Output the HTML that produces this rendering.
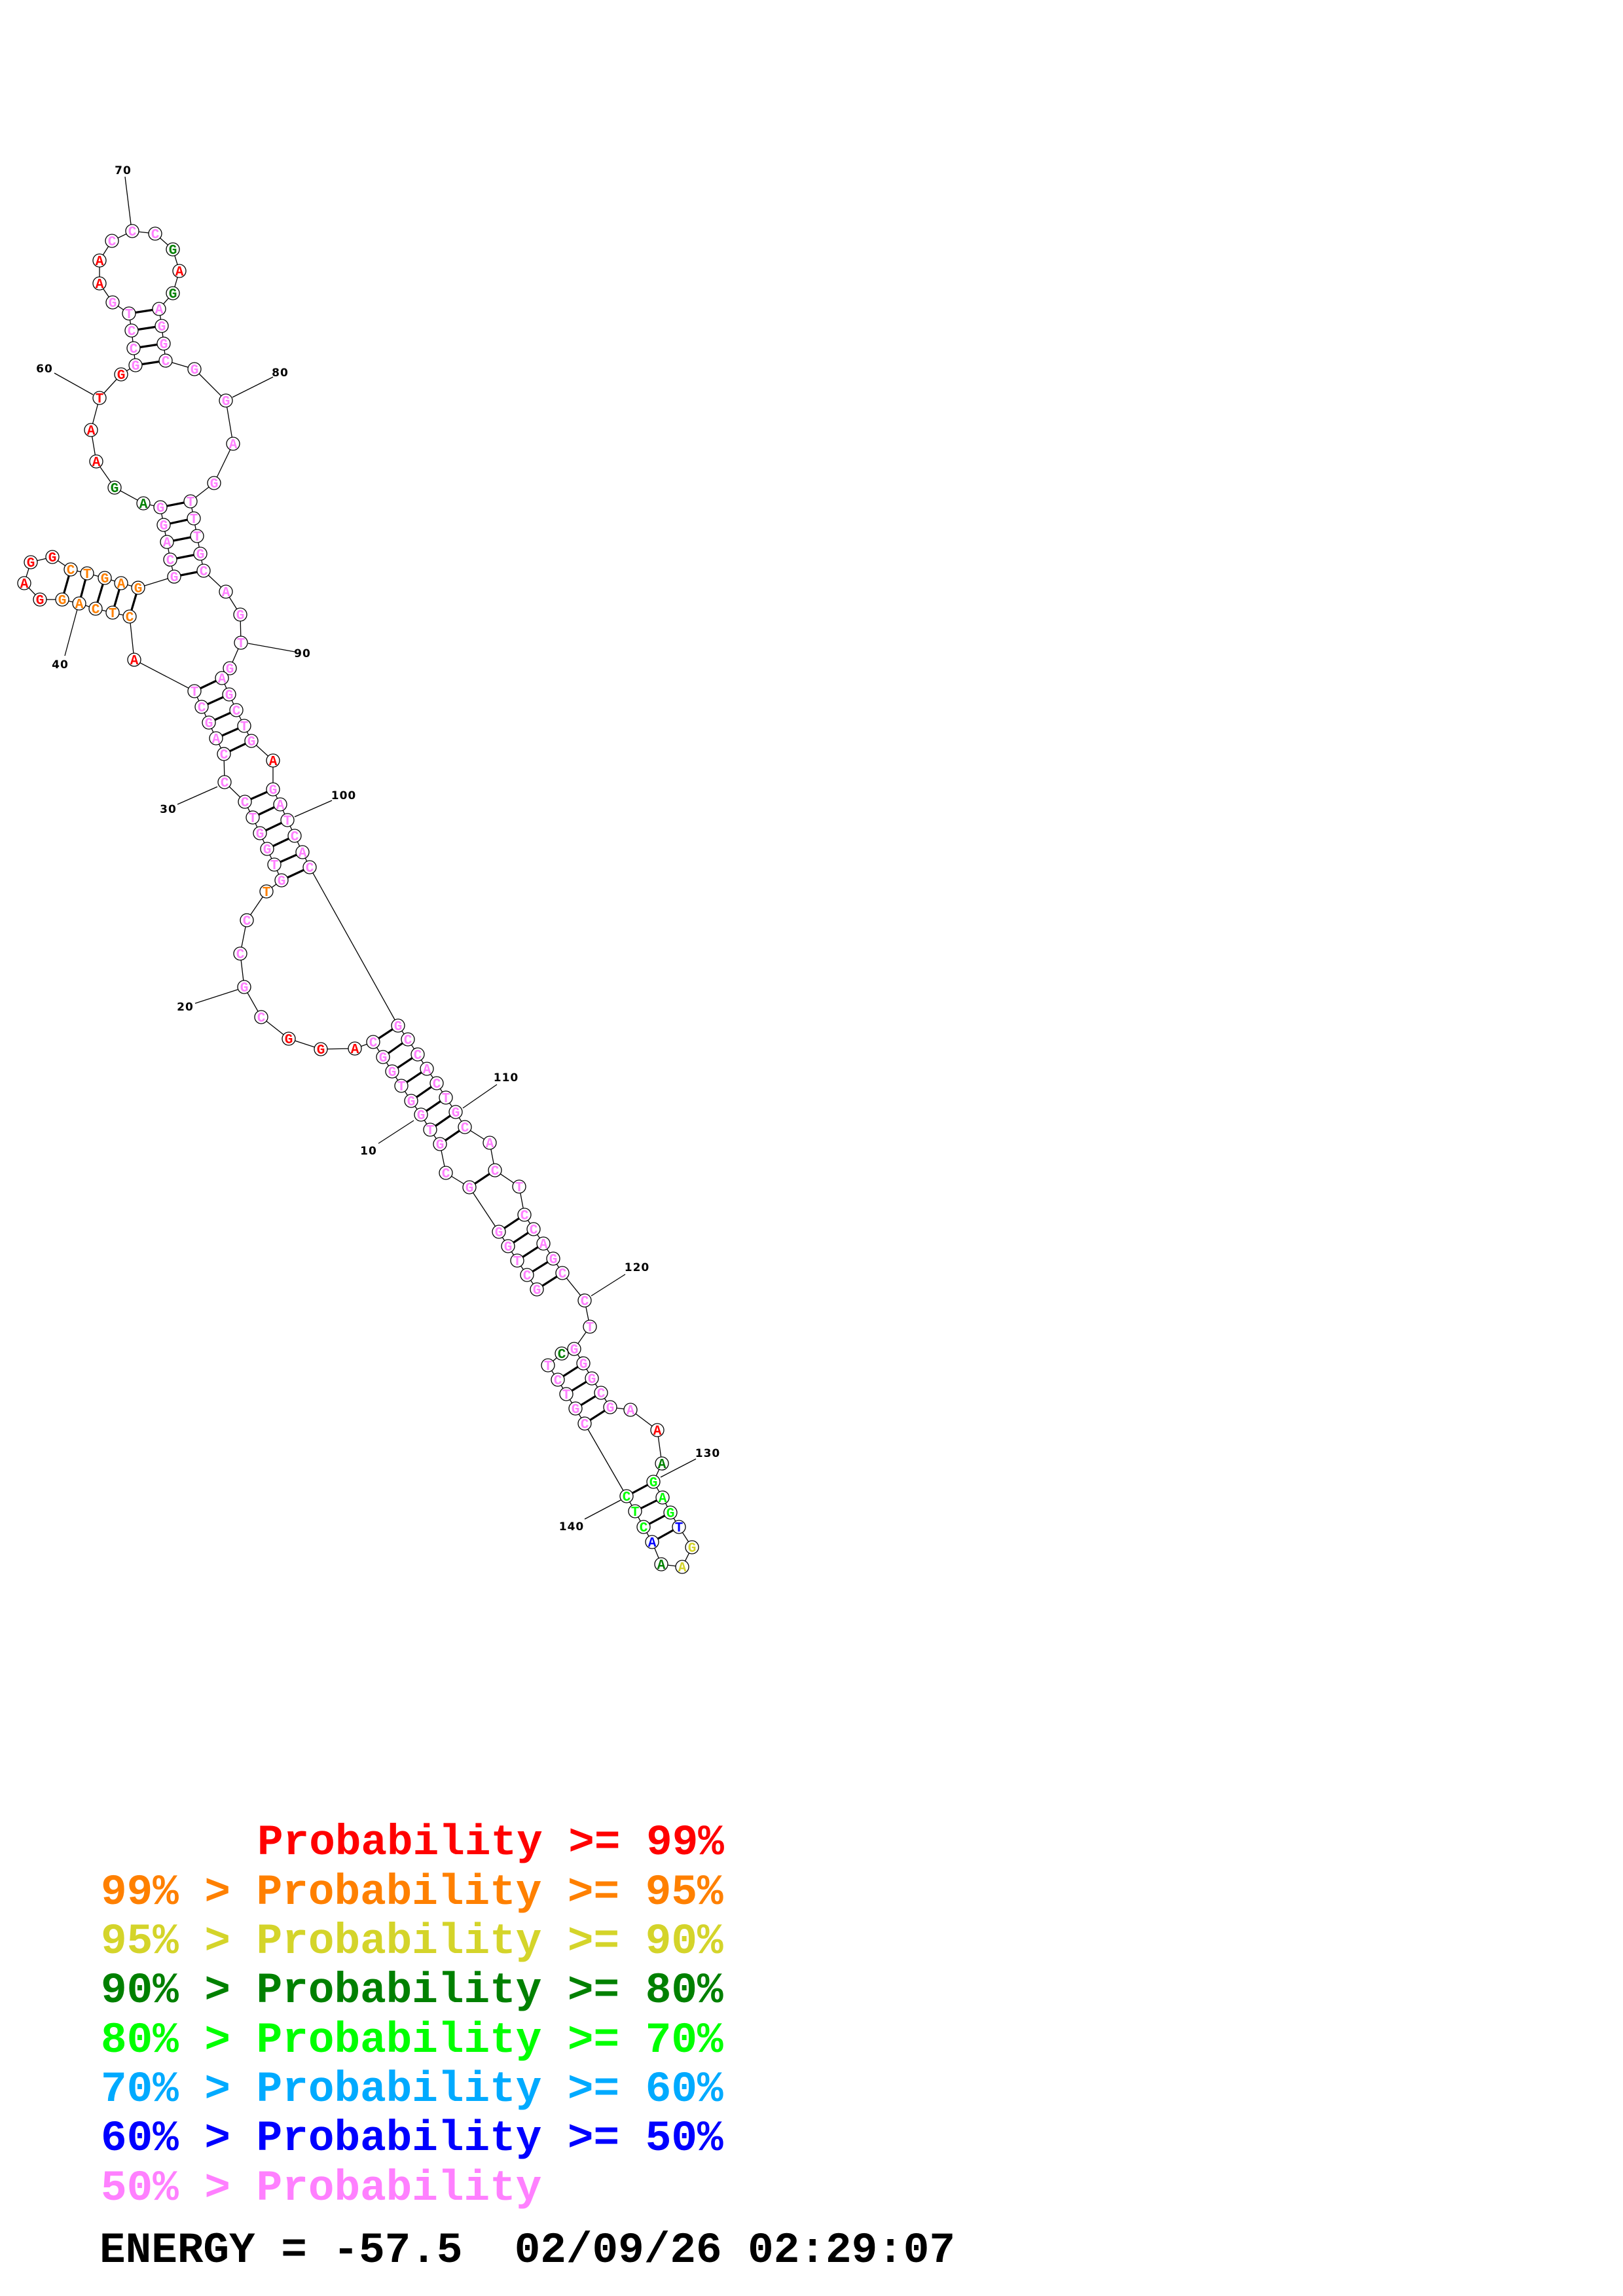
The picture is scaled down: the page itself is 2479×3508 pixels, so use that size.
<!DOCTYPE html>
<html><head><meta charset="utf-8"><style>
html,body{margin:0;padding:0;background:#fff}
svg{display:block}
.n circle{fill:#fff;stroke:#000;stroke-width:1.3}
.n text{font-family:"Liberation Mono",monospace;font-weight:bold;font-size:21px;text-anchor:middle}
.p text{fill:#ff80ff}.r text{fill:#ff0000}.o text{fill:#ff8000}.y text{fill:#d4d42a}.d text{fill:#008000}.g text{fill:#00ff00}.b text{fill:#0000ff}
.lbl{font-family:"DejaVu Sans","Liberation Sans",sans-serif;font-weight:bold;font-size:17px;text-anchor:middle;letter-spacing:1px}
.lg{font-family:"Liberation Mono",monospace;font-weight:bold;font-size:66px}
</style></head><body>
<svg width="2479" height="3508" viewBox="0 0 2479 3508" xmlns="http://www.w3.org/2000/svg">
<polyline fill="none" stroke="#000" stroke-width="1.3" points="820,1970 805,1948 790,1926 776,1904 762,1882 717,1814 681,1792 672,1748 657,1726 643,1703 628,1682 613,1659 599,1637 585,1615 570,1592 542,1602 490,1603 441,1587 399,1554 373,1508 367,1457 377,1406 407,1362 430,1345 419,1321 408,1297 397,1273 386,1249 374,1225 343,1195 342,1152 330,1128 319,1104 308,1080 297,1056 205,1008 198,942 172,936 146,930 121,922 95,916 61,916 37,891 47,859 80,851 108,870 133,876 160,883 185,891 211,898 266,881 260,855 255,828 250,802 245,775 219,769 175,745 147,705 139,657 152,608 185,572 207,558 204,532 201,505 197,479 172,462 152,433 152,398 171,368 202,353 237,357 264,381 274,414 264,448 243,472 247,498 250,525 253,551 297,564 345,612 356,678 327,738 291,766 296,792 301,819 306,846 311,872 345,904 367,939 368,982 351,1021 339,1036 350,1061 361,1085 373,1109 384,1132 417,1162 417,1206 428,1229 439,1253 450,1277 462,1302 473,1325 608,1567 623,1588 638,1611 652,1633 667,1655 681,1677 696,1699 710,1722 748,1746 756,1788 793,1813 801,1856 815,1878 830,1900 845,1923 859,1945 893,1987 901,2027 877,2061 891,2083 904,2106 918,2128 932,2150 963,2154 1004,2185 1011,2236 998,2264 1012,2288 1024,2311 1037,2333 1057,2364 1042,2394 1010,2390 996,2356 983,2333 970,2309 957,2286 893,2175 879,2152 865,2130 852,2108 837,2086 858,2068"/>
<g stroke="#000" stroke-width="3.2">
<line x1="820" y1="1970" x2="859" y2="1945"/><line x1="805" y1="1948" x2="845" y2="1923"/><line x1="790" y1="1926" x2="830" y2="1900"/><line x1="776" y1="1904" x2="815" y2="1878"/><line x1="762" y1="1882" x2="801" y2="1856"/><line x1="717" y1="1814" x2="756" y2="1788"/>
<line x1="672" y1="1748" x2="710" y2="1722"/><line x1="657" y1="1726" x2="696" y2="1699"/><line x1="643" y1="1703" x2="681" y2="1677"/><line x1="628" y1="1682" x2="667" y2="1655"/><line x1="613" y1="1659" x2="652" y2="1633"/><line x1="599" y1="1637" x2="638" y2="1611"/><line x1="585" y1="1615" x2="623" y2="1588"/><line x1="570" y1="1592" x2="608" y2="1567"/>
<line x1="430" y1="1345" x2="473" y2="1325"/><line x1="419" y1="1321" x2="462" y2="1302"/><line x1="408" y1="1297" x2="450" y2="1277"/><line x1="397" y1="1273" x2="439" y2="1253"/><line x1="386" y1="1249" x2="428" y2="1229"/><line x1="374" y1="1225" x2="417" y2="1206"/>
<line x1="342" y1="1152" x2="384" y2="1132"/><line x1="330" y1="1128" x2="373" y2="1109"/><line x1="319" y1="1104" x2="361" y2="1085"/><line x1="308" y1="1080" x2="350" y2="1061"/><line x1="297" y1="1056" x2="339" y2="1036"/>
<line x1="198" y1="942" x2="211" y2="898"/><line x1="172" y1="936" x2="185" y2="891"/><line x1="146" y1="930" x2="160" y2="883"/><line x1="121" y1="922" x2="133" y2="876"/><line x1="95" y1="916" x2="108" y2="870"/>
<line x1="266" y1="881" x2="311" y2="872"/><line x1="260" y1="855" x2="306" y2="846"/><line x1="255" y1="828" x2="301" y2="819"/><line x1="250" y1="802" x2="296" y2="792"/><line x1="245" y1="775" x2="291" y2="766"/>
<line x1="207" y1="558" x2="253" y2="551"/><line x1="204" y1="532" x2="250" y2="525"/><line x1="201" y1="505" x2="247" y2="498"/><line x1="197" y1="479" x2="243" y2="472"/>
<line x1="858" y1="2068" x2="877" y2="2061"/><line x1="852" y1="2108" x2="891" y2="2083"/><line x1="865" y1="2130" x2="904" y2="2106"/><line x1="879" y1="2152" x2="918" y2="2128"/><line x1="893" y1="2175" x2="932" y2="2150"/>
<line x1="957" y1="2286" x2="998" y2="2264"/><line x1="970" y1="2309" x2="1012" y2="2288"/><line x1="983" y1="2333" x2="1024" y2="2311"/><line x1="996" y1="2356" x2="1037" y2="2333"/>
</g>
<g stroke="#000" stroke-width="1.3">
<line x1="191" y1="270" x2="200" y2="343"/><line x1="83" y1="570" x2="142" y2="603"/><line x1="355" y1="607" x2="417" y2="576"/><line x1="118" y1="931" x2="99" y2="1002"/><line x1="379" y1="983" x2="451" y2="996"/><line x1="271" y1="1229" x2="332" y2="1202"/><line x1="450" y1="1248" x2="507" y2="1223"/><line x1="298" y1="1533" x2="363" y2="1512"/><line x1="578" y1="1747" x2="632" y2="1712"/><line x1="707" y1="1693" x2="759" y2="1657"/><line x1="903" y1="1980" x2="955" y2="1947"/><line x1="1009" y1="2257" x2="1063" y2="2229"/><line x1="893" y1="2321" x2="948" y2="2292"/>
</g>
<g class="lbl">
<text x="188" y="266">70</text><text x="68" y="569">60</text><text x="428" y="575">80</text><text x="92" y="1021">40</text><text x="462" y="1004">90</text><text x="257" y="1242">30</text><text x="525" y="1221">100</text><text x="283" y="1544">20</text><text x="563" y="1764">10</text><text x="773" y="1652">110</text><text x="973" y="1942">120</text><text x="1081" y="2226">130</text><text x="873" y="2338">140</text>
</g>
<g class="n p" transform="translate(820,1970)"><circle r="10"/><text y="7">G</text></g>
<g class="n p" transform="translate(805,1948)"><circle r="10"/><text y="7">C</text></g>
<g class="n p" transform="translate(790,1926)"><circle r="10"/><text y="7">T</text></g>
<g class="n p" transform="translate(776,1904)"><circle r="10"/><text y="7">G</text></g>
<g class="n p" transform="translate(762,1882)"><circle r="10"/><text y="7">G</text></g>
<g class="n p" transform="translate(717,1814)"><circle r="10"/><text y="7">G</text></g>
<g class="n p" transform="translate(681,1792)"><circle r="10"/><text y="7">C</text></g>
<g class="n p" transform="translate(672,1748)"><circle r="10"/><text y="7">G</text></g>
<g class="n p" transform="translate(657,1726)"><circle r="10"/><text y="7">T</text></g>
<g class="n p" transform="translate(643,1703)"><circle r="10"/><text y="7">G</text></g>
<g class="n p" transform="translate(628,1682)"><circle r="10"/><text y="7">G</text></g>
<g class="n p" transform="translate(613,1659)"><circle r="10"/><text y="7">T</text></g>
<g class="n p" transform="translate(599,1637)"><circle r="10"/><text y="7">G</text></g>
<g class="n p" transform="translate(585,1615)"><circle r="10"/><text y="7">G</text></g>
<g class="n p" transform="translate(570,1592)"><circle r="10"/><text y="7">C</text></g>
<g class="n r" transform="translate(542,1602)"><circle r="10"/><text y="7">A</text></g>
<g class="n r" transform="translate(490,1603)"><circle r="10"/><text y="7">G</text></g>
<g class="n r" transform="translate(441,1587)"><circle r="10"/><text y="7">G</text></g>
<g class="n p" transform="translate(399,1554)"><circle r="10"/><text y="7">C</text></g>
<g class="n p" transform="translate(373,1508)"><circle r="10"/><text y="7">G</text></g>
<g class="n p" transform="translate(367,1457)"><circle r="10"/><text y="7">C</text></g>
<g class="n p" transform="translate(377,1406)"><circle r="10"/><text y="7">C</text></g>
<g class="n o" transform="translate(407,1362)"><circle r="10"/><text y="7">T</text></g>
<g class="n p" transform="translate(430,1345)"><circle r="10"/><text y="7">G</text></g>
<g class="n p" transform="translate(419,1321)"><circle r="10"/><text y="7">T</text></g>
<g class="n p" transform="translate(408,1297)"><circle r="10"/><text y="7">G</text></g>
<g class="n p" transform="translate(397,1273)"><circle r="10"/><text y="7">G</text></g>
<g class="n p" transform="translate(386,1249)"><circle r="10"/><text y="7">T</text></g>
<g class="n p" transform="translate(374,1225)"><circle r="10"/><text y="7">C</text></g>
<g class="n p" transform="translate(343,1195)"><circle r="10"/><text y="7">C</text></g>
<g class="n p" transform="translate(342,1152)"><circle r="10"/><text y="7">C</text></g>
<g class="n p" transform="translate(330,1128)"><circle r="10"/><text y="7">A</text></g>
<g class="n p" transform="translate(319,1104)"><circle r="10"/><text y="7">G</text></g>
<g class="n p" transform="translate(308,1080)"><circle r="10"/><text y="7">C</text></g>
<g class="n p" transform="translate(297,1056)"><circle r="10"/><text y="7">T</text></g>
<g class="n r" transform="translate(205,1008)"><circle r="10"/><text y="7">A</text></g>
<g class="n o" transform="translate(198,942)"><circle r="10"/><text y="7">C</text></g>
<g class="n o" transform="translate(172,936)"><circle r="10"/><text y="7">T</text></g>
<g class="n o" transform="translate(146,930)"><circle r="10"/><text y="7">C</text></g>
<g class="n o" transform="translate(121,922)"><circle r="10"/><text y="7">A</text></g>
<g class="n o" transform="translate(95,916)"><circle r="10"/><text y="7">G</text></g>
<g class="n r" transform="translate(61,916)"><circle r="10"/><text y="7">G</text></g>
<g class="n r" transform="translate(37,891)"><circle r="10"/><text y="7">A</text></g>
<g class="n r" transform="translate(47,859)"><circle r="10"/><text y="7">G</text></g>
<g class="n r" transform="translate(80,851)"><circle r="10"/><text y="7">G</text></g>
<g class="n o" transform="translate(108,870)"><circle r="10"/><text y="7">C</text></g>
<g class="n o" transform="translate(133,876)"><circle r="10"/><text y="7">T</text></g>
<g class="n o" transform="translate(160,883)"><circle r="10"/><text y="7">G</text></g>
<g class="n o" transform="translate(185,891)"><circle r="10"/><text y="7">A</text></g>
<g class="n o" transform="translate(211,898)"><circle r="10"/><text y="7">G</text></g>
<g class="n p" transform="translate(266,881)"><circle r="10"/><text y="7">G</text></g>
<g class="n p" transform="translate(260,855)"><circle r="10"/><text y="7">C</text></g>
<g class="n p" transform="translate(255,828)"><circle r="10"/><text y="7">A</text></g>
<g class="n p" transform="translate(250,802)"><circle r="10"/><text y="7">G</text></g>
<g class="n p" transform="translate(245,775)"><circle r="10"/><text y="7">G</text></g>
<g class="n d" transform="translate(219,769)"><circle r="10"/><text y="7">A</text></g>
<g class="n d" transform="translate(175,745)"><circle r="10"/><text y="7">G</text></g>
<g class="n r" transform="translate(147,705)"><circle r="10"/><text y="7">A</text></g>
<g class="n r" transform="translate(139,657)"><circle r="10"/><text y="7">A</text></g>
<g class="n r" transform="translate(152,608)"><circle r="10"/><text y="7">T</text></g>
<g class="n r" transform="translate(185,572)"><circle r="10"/><text y="7">G</text></g>
<g class="n p" transform="translate(207,558)"><circle r="10"/><text y="7">G</text></g>
<g class="n p" transform="translate(204,532)"><circle r="10"/><text y="7">C</text></g>
<g class="n p" transform="translate(201,505)"><circle r="10"/><text y="7">C</text></g>
<g class="n p" transform="translate(197,479)"><circle r="10"/><text y="7">T</text></g>
<g class="n p" transform="translate(172,462)"><circle r="10"/><text y="7">G</text></g>
<g class="n r" transform="translate(152,433)"><circle r="10"/><text y="7">A</text></g>
<g class="n r" transform="translate(152,398)"><circle r="10"/><text y="7">A</text></g>
<g class="n p" transform="translate(171,368)"><circle r="10"/><text y="7">C</text></g>
<g class="n p" transform="translate(202,353)"><circle r="10"/><text y="7">C</text></g>
<g class="n p" transform="translate(237,357)"><circle r="10"/><text y="7">C</text></g>
<g class="n d" transform="translate(264,381)"><circle r="10"/><text y="7">G</text></g>
<g class="n r" transform="translate(274,414)"><circle r="10"/><text y="7">A</text></g>
<g class="n d" transform="translate(264,448)"><circle r="10"/><text y="7">G</text></g>
<g class="n p" transform="translate(243,472)"><circle r="10"/><text y="7">A</text></g>
<g class="n p" transform="translate(247,498)"><circle r="10"/><text y="7">G</text></g>
<g class="n p" transform="translate(250,525)"><circle r="10"/><text y="7">G</text></g>
<g class="n p" transform="translate(253,551)"><circle r="10"/><text y="7">C</text></g>
<g class="n p" transform="translate(297,564)"><circle r="10"/><text y="7">G</text></g>
<g class="n p" transform="translate(345,612)"><circle r="10"/><text y="7">G</text></g>
<g class="n p" transform="translate(356,678)"><circle r="10"/><text y="7">A</text></g>
<g class="n p" transform="translate(327,738)"><circle r="10"/><text y="7">G</text></g>
<g class="n p" transform="translate(291,766)"><circle r="10"/><text y="7">T</text></g>
<g class="n p" transform="translate(296,792)"><circle r="10"/><text y="7">T</text></g>
<g class="n p" transform="translate(301,819)"><circle r="10"/><text y="7">T</text></g>
<g class="n p" transform="translate(306,846)"><circle r="10"/><text y="7">G</text></g>
<g class="n p" transform="translate(311,872)"><circle r="10"/><text y="7">C</text></g>
<g class="n p" transform="translate(345,904)"><circle r="10"/><text y="7">A</text></g>
<g class="n p" transform="translate(367,939)"><circle r="10"/><text y="7">G</text></g>
<g class="n p" transform="translate(368,982)"><circle r="10"/><text y="7">T</text></g>
<g class="n p" transform="translate(351,1021)"><circle r="10"/><text y="7">G</text></g>
<g class="n p" transform="translate(339,1036)"><circle r="10"/><text y="7">A</text></g>
<g class="n p" transform="translate(350,1061)"><circle r="10"/><text y="7">G</text></g>
<g class="n p" transform="translate(361,1085)"><circle r="10"/><text y="7">C</text></g>
<g class="n p" transform="translate(373,1109)"><circle r="10"/><text y="7">T</text></g>
<g class="n p" transform="translate(384,1132)"><circle r="10"/><text y="7">G</text></g>
<g class="n r" transform="translate(417,1162)"><circle r="10"/><text y="7">A</text></g>
<g class="n p" transform="translate(417,1206)"><circle r="10"/><text y="7">G</text></g>
<g class="n p" transform="translate(428,1229)"><circle r="10"/><text y="7">A</text></g>
<g class="n p" transform="translate(439,1253)"><circle r="10"/><text y="7">T</text></g>
<g class="n p" transform="translate(450,1277)"><circle r="10"/><text y="7">C</text></g>
<g class="n p" transform="translate(462,1302)"><circle r="10"/><text y="7">A</text></g>
<g class="n p" transform="translate(473,1325)"><circle r="10"/><text y="7">C</text></g>
<g class="n p" transform="translate(608,1567)"><circle r="10"/><text y="7">G</text></g>
<g class="n p" transform="translate(623,1588)"><circle r="10"/><text y="7">C</text></g>
<g class="n p" transform="translate(638,1611)"><circle r="10"/><text y="7">C</text></g>
<g class="n p" transform="translate(652,1633)"><circle r="10"/><text y="7">A</text></g>
<g class="n p" transform="translate(667,1655)"><circle r="10"/><text y="7">C</text></g>
<g class="n p" transform="translate(681,1677)"><circle r="10"/><text y="7">T</text></g>
<g class="n p" transform="translate(696,1699)"><circle r="10"/><text y="7">G</text></g>
<g class="n p" transform="translate(710,1722)"><circle r="10"/><text y="7">C</text></g>
<g class="n p" transform="translate(748,1746)"><circle r="10"/><text y="7">A</text></g>
<g class="n p" transform="translate(756,1788)"><circle r="10"/><text y="7">C</text></g>
<g class="n p" transform="translate(793,1813)"><circle r="10"/><text y="7">T</text></g>
<g class="n p" transform="translate(801,1856)"><circle r="10"/><text y="7">C</text></g>
<g class="n p" transform="translate(815,1878)"><circle r="10"/><text y="7">C</text></g>
<g class="n p" transform="translate(830,1900)"><circle r="10"/><text y="7">A</text></g>
<g class="n p" transform="translate(845,1923)"><circle r="10"/><text y="7">G</text></g>
<g class="n p" transform="translate(859,1945)"><circle r="10"/><text y="7">C</text></g>
<g class="n p" transform="translate(893,1987)"><circle r="10"/><text y="7">C</text></g>
<g class="n p" transform="translate(901,2027)"><circle r="10"/><text y="7">T</text></g>
<g class="n p" transform="translate(877,2061)"><circle r="10"/><text y="7">G</text></g>
<g class="n p" transform="translate(891,2083)"><circle r="10"/><text y="7">G</text></g>
<g class="n p" transform="translate(904,2106)"><circle r="10"/><text y="7">G</text></g>
<g class="n p" transform="translate(918,2128)"><circle r="10"/><text y="7">C</text></g>
<g class="n p" transform="translate(932,2150)"><circle r="10"/><text y="7">G</text></g>
<g class="n p" transform="translate(963,2154)"><circle r="10"/><text y="7">A</text></g>
<g class="n r" transform="translate(1004,2185)"><circle r="10"/><text y="7">A</text></g>
<g class="n d" transform="translate(1011,2236)"><circle r="10"/><text y="7">A</text></g>
<g class="n g" transform="translate(998,2264)"><circle r="10"/><text y="7">G</text></g>
<g class="n g" transform="translate(1012,2288)"><circle r="10"/><text y="7">A</text></g>
<g class="n g" transform="translate(1024,2311)"><circle r="10"/><text y="7">G</text></g>
<g class="n b" transform="translate(1037,2333)"><circle r="10"/><text y="7">T</text></g>
<g class="n y" transform="translate(1057,2364)"><circle r="10"/><text y="7">G</text></g>
<g class="n y" transform="translate(1042,2394)"><circle r="10"/><text y="7">A</text></g>
<g class="n d" transform="translate(1010,2390)"><circle r="10"/><text y="7">A</text></g>
<g class="n b" transform="translate(996,2356)"><circle r="10"/><text y="7">A</text></g>
<g class="n g" transform="translate(983,2333)"><circle r="10"/><text y="7">C</text></g>
<g class="n g" transform="translate(970,2309)"><circle r="10"/><text y="7">T</text></g>
<g class="n g" transform="translate(957,2286)"><circle r="10"/><text y="7">C</text></g>
<g class="n p" transform="translate(893,2175)"><circle r="10"/><text y="7">C</text></g>
<g class="n p" transform="translate(879,2152)"><circle r="10"/><text y="7">G</text></g>
<g class="n p" transform="translate(865,2130)"><circle r="10"/><text y="7">T</text></g>
<g class="n p" transform="translate(852,2108)"><circle r="10"/><text y="7">C</text></g>
<g class="n p" transform="translate(837,2086)"><circle r="10"/><text y="7">T</text></g>
<g class="n d" transform="translate(858,2068)"><circle r="10"/><text y="7">C</text></g>
<g class="lg">
<text x="393" y="2833" fill="#ff0000">Probability &gt;= 99%</text>
<text x="154" y="2909" fill="#ff8000">99% &gt; Probability &gt;= 95%</text>
<text x="154" y="2984" fill="#d4d42a">95% &gt; Probability &gt;= 90%</text>
<text x="154" y="3059" fill="#008000">90% &gt; Probability &gt;= 80%</text>
<text x="154" y="3135" fill="#00ff00">80% &gt; Probability &gt;= 70%</text>
<text x="154" y="3210" fill="#00aaff">70% &gt; Probability &gt;= 60%</text>
<text x="154" y="3285" fill="#0000ff">60% &gt; Probability &gt;= 50%</text>
<text x="154" y="3361" fill="#ff80ff">50% &gt; Probability</text>
<text x="152" y="3456" fill="#000" xml:space="preserve">ENERGY = -57.5  02/09/26 02:29:07</text>
</g>
</svg>
</body></html>
